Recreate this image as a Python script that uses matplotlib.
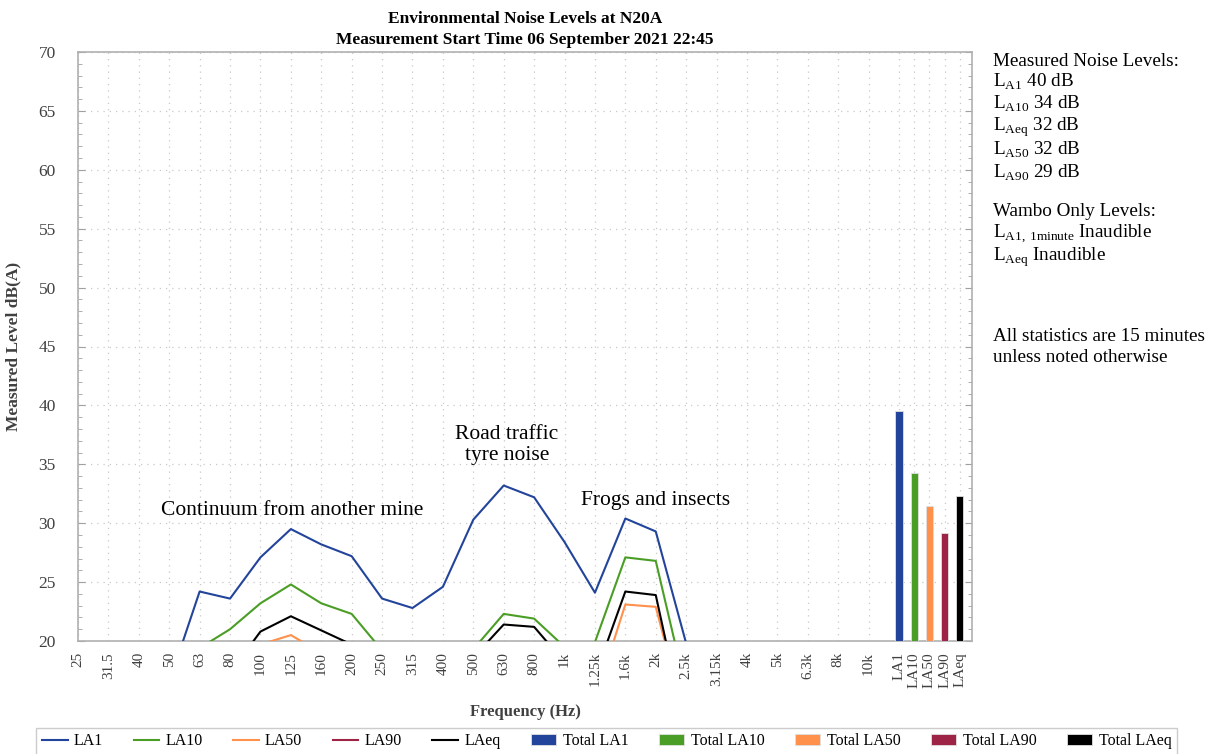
import numpy as np
import matplotlib
matplotlib.use('Agg')
import matplotlib.pyplot as plt
from matplotlib.ticker import MultipleLocator

plt.rcParams['font.family'] = ['Liberation Serif', 'DejaVu Serif']
plt.rcParams['mathtext.fontset'] = 'custom'
plt.rcParams['mathtext.rm'] = 'Liberation Serif'

# third-octave bands
freqs = ['25', '31.5', '40', '50', '63', '80', '100', '125', '160', '200', '250', '315',
         '400', '500', '630', '800', '1k', '1.25k', '1.6k', '2k', '2.5k', '3.15k', '4k',
         '5k', '6.3k', '8k', '10k']
la1 = [14.0, 14.5, 15.0, 16.5, 24.2, 23.6, 27.1, 29.5, 28.2, 27.2, 23.6, 22.8, 24.6,
       30.3, 33.2, 32.2, 28.4, 24.1, 30.4, 29.3, 19.8, 16.0, 15.0, 14.0, 13.0, 12.0, 11.0]
la10 = [11.0, 12.0, 13.0, 15.0, 19.4, 21.0, 23.2, 24.8, 23.2, 22.3, 19.2, 18.0, 18.5,
        19.3, 22.3, 21.9, 19.5, 19.9, 27.1, 26.8, 15.8, 13.0, 12.0, 11.0, 10.0, 9.0, 8.0]
la50 = [8.0, 9.0, 10.0, 12.0, 16.0, 18.0, 19.7, 20.5, 19.0, 17.0, 15.0, 14.0, 14.5,
        15.5, 18.0, 17.5, 15.0, 15.0, 23.1, 22.9, 13.0, 10.0, 9.0, 8.0, 7.0, 6.0, 5.0]
la90 = [6.0, 7.0, 8.0, 10.0, 14.0, 16.0, 17.5, 18.5, 17.0, 15.0, 13.0, 12.0, 12.5,
        13.5, 16.0, 15.5, 13.0, 13.0, 19.5, 19.3, 11.0, 8.0, 7.0, 6.0, 5.0, 4.0, 3.0]
laeq = [9.0, 10.0, 11.0, 13.0, 16.0, 17.3, 20.8, 22.1, 20.9, 19.7, 17.0, 16.0, 16.5,
        18.6, 21.4, 21.2, 18.2, 17.0, 24.2, 23.9, 12.1, 10.0, 9.0, 8.0, 7.0, 6.0, 5.0]

total_names = ['LA1', 'LA10', 'LA50', 'LA90', 'LAeq']
total_vals = [39.5, 34.3, 31.5, 29.2, 32.3]

colors = ['#23449B', '#4A9E25', '#FF914D', '#9E2447', '#000000']

fig = plt.figure(figsize=(12.16, 7.54), dpi=100)
ax = fig.add_axes([78/1216, 1-641/754, (972-78)/1216, (641-52)/754])

x = np.arange(len(freqs))
series = [la1, la10, la50, la90, laeq]
handles = []
for s, c, n in zip(series, colors, total_names):
    h, = ax.plot(x, s, color=c, linewidth=1.5, label=n, zorder=3)
    handles.append(h)

xb = len(freqs) + 0.5 * np.arange(len(total_names))
for xi, v, c, n in zip(xb, total_vals, colors, total_names):
    b = ax.bar(xi, v - 20, bottom=20, width=0.24, color=c, edgecolor='#e0e0e0',
               linewidth=0.6, label='Total ' + n, zorder=3)
    handles.append(b)

ax.set_ylim(20, 70)
ax.set_xlim(0, 29.4)
ax.yaxis.set_major_locator(MultipleLocator(5))
ax.yaxis.set_minor_locator(MultipleLocator(1))
ax.set_xticks(list(x) + list(xb))
ax.set_xticklabels(freqs + total_names, rotation=90, fontsize=11, va='top')
ax.tick_params(axis='x', length=0, pad=8, colors='#404040')
ax.tick_params(axis='y', which='both', direction='in', right=True, colors='#a0a0a0',
               labelcolor='#404040', labelsize=12.5, pad=16)
ax.tick_params(axis='y', which='major', length=5)
ax.tick_params(axis='y', which='minor', length=3)
ax.grid(True, which='major', color='#c8c8c8', linestyle=(0, (1, 4)), linewidth=0.9)
for sp in ax.spines.values():
    sp.set_color('#b0b0b0')
    sp.set_linewidth(1.2)

ax.set_xlabel('Frequency (Hz)', fontsize=12, fontweight='bold', color='#404040', labelpad=12)
ax.set_ylabel('Measured Level dB(A)', fontsize=12.5, fontweight='bold', color='#404040', labelpad=12)
ax.set_title('Environmental Noise Levels at N20A\nMeasurement Start Time 06 September 2021 22:45',
             fontsize=12.5, fontweight='bold', pad=6, linespacing=1.35)

# annotations
ax.text(7.05, 30.3, 'Continuum from another mine', fontsize=15.5, ha='center', va='bottom')
ax.text(14.1, 34.9, 'Road traffic\ntyre noise', fontsize=15.5, ha='center', va='bottom',
        linespacing=1.2)
ax.text(19.0, 31.1, 'Frogs and insects', fontsize=15.5, ha='center', va='bottom')

# side notes
side = [(61, 'Measured Noise Levels:'),
        (82, r'L$_{\mathrm{A1}}$ 40 dB'),
        (104, r'L$_{\mathrm{A10}}$ 34 dB'),
        (127, r'L$_{\mathrm{Aeq}}$ 32 dB'),
        (150, r'L$_{\mathrm{A50}}$ 32 dB'),
        (173, r'L$_{\mathrm{A90}}$ 29 dB'),
        (212, 'Wambo Only Levels:'),
        (234, r'L$_{\mathrm{A1,\,1minute}}$ Inaudible'),
        (257, r'L$_{\mathrm{Aeq}}$ Inaudible'),
        (337, 'All statistics are 15 minutes'),
        (357, 'unless noted otherwise')]
for yy, t in side:
    fig.text(993/1216, 1-yy/754, t, fontsize=13.8, ha='left', va='center')

leg = fig.legend(handles=handles, loc='lower center', ncol=10, bbox_to_anchor=(0.499, -0.012),
                 fontsize=11.5, frameon=True, fancybox=False, handlelength=1.6,
                 columnspacing=1.9, handletextpad=0.4, borderpad=0.35)
leg.get_frame().set_edgecolor('#c0c0c0')

fig.savefig('out.png', dpi=100)
